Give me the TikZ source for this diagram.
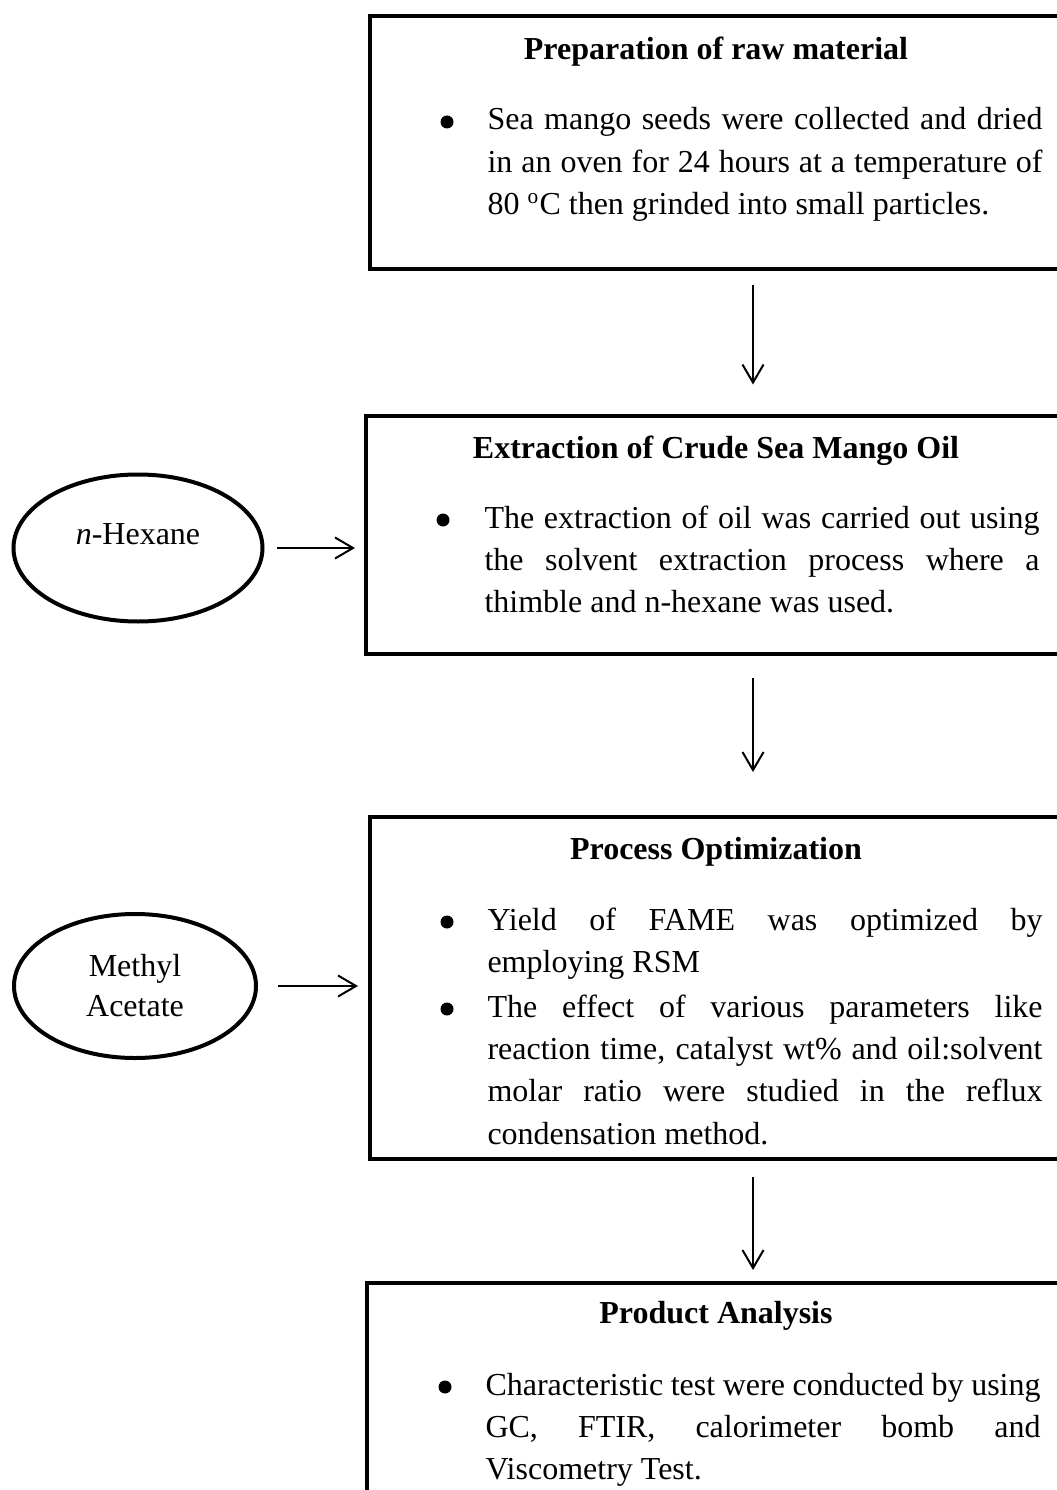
\documentclass[tikz,border=0pt]{standalone}
\usepackage{fontspec}
\setmainfont{Liberation Serif}
\usetikzlibrary{arrows.meta,shapes.geometric}

\newlength{\pxu}
\setlength{\pxu}{0.375pt}
\newcommand{\stagefont}{\fontsize{12pt}{15.9pt}\selectfont}

\tikzset{
stage/.style={draw,rectangle,line width=1.5pt,inner sep=0pt,outer sep=0pt,anchor=north west},
feed/.style={draw,ellipse,line width=1.5pt,inner sep=0pt,outer sep=0pt,align=center,font=\stagefont},
head/.style={anchor=base,inner sep=0pt,font=\stagefont\bfseries},
body/.style={anchor=base west,inner sep=0pt,text width=555\pxu,align=justify,font=\stagefont},
dot/.style={circle,fill,inner sep=0pt,minimum size=13\pxu},
flow/.style={line width=0.75pt,-{Straight Barb[length=6.75pt,width=7.9pt]}}
}

\begin{document}
\begin{tikzpicture}[
x=0.375pt,
y=-0.375pt
]
\useasboundingbox (0,0) rectangle (1056,1490);

% boxes
\node[stage,minimum width=720\pxu,minimum height=253.5\pxu] (prep) at (370,16) {};
\node[stage,minimum width=720\pxu,minimum height=238\pxu] (extr) at (366,416) {};
\node[stage,minimum width=720\pxu,minimum height=342\pxu] (optim) at (370,817) {};
\node[stage,minimum width=720\pxu,minimum height=320\pxu] (anal) at (367,1283) {};

% titles
\node[head] (prepT) at (716,60) {Preparation of raw material};
\node[head] (extrT) at (716,458) {Extraction of Crude Sea Mango Oil};
\node[head] (optimT) at (716,859) {Process Optimization};
\node[head] (analT) at (716,1323) {Product Analysis};

% bullet points
\node[dot] (prepD) at (447,122) {};
\node[body] (prepB) at (487,130) {Sea mango seeds were collected and dried\linebreak
in an oven for 24 hours at a temperature of\linebreak
80 \textsuperscript{o}C then grinded into small particles.};

\node[dot] (extrD) at (443,520) {};
\node[body] (extrB) at (484,528) {The extraction of oil was carried out using\linebreak
the solvent extraction process where a\linebreak
thimble and n-hexane was used.};

\node[dot] (optimD1) at (447,922) {};
\node[body] (optimB1) at (487,930) {Yield of FAME was optimized by\linebreak
employing RSM};
\node[dot] (optimD2) at (447,1009) {};
\node[body] (optimB2) at (487,1017) {The effect of various parameters like\linebreak
reaction time, catalyst wt\% and oil:solvent\linebreak
molar ratio were studied in the reflux\linebreak
condensation method.};

\node[dot] (analD) at (445,1387) {};
\node[body] (analB) at (485,1395) {Characteristic test were conducted by using\linebreak
GC, FTIR, calorimeter bomb and\linebreak
Viscometry Test.};

% inputs
\node[feed,minimum width=249\pxu,minimum height=147\pxu,text height=7.9pt,text depth=10.9pt] (hex) at (138,548) {\textit{n}-Hexane};
\node[feed,minimum width=242\pxu,minimum height=144\pxu,font=\fontsize{12pt}{15pt}\selectfont] (meac) at (135,986) {Methyl\\Acetate};

% connecting arrows
\coordinate (ax) at (753,0);
\draw[flow,shorten <=15.5\pxu,shorten >=31.5\pxu] (prep.south -| ax) -- (extr.north -| ax);
\draw[flow,shorten <=24\pxu,shorten >=45\pxu] (extr.south -| ax) -- (optim.north -| ax);
\draw[flow,shorten <=18\pxu,shorten >=13\pxu] (optim.south -| ax) -- (anal.north -| ax);

\draw[flow,shorten <=14.5\pxu,shorten >=11\pxu] (hex.east) -- (hex.east -| extr.west);
\draw[flow,shorten <=22\pxu,shorten >=12\pxu] (meac.east) -- (meac.east -| optim.west);

\end{tikzpicture}
\end{document}
